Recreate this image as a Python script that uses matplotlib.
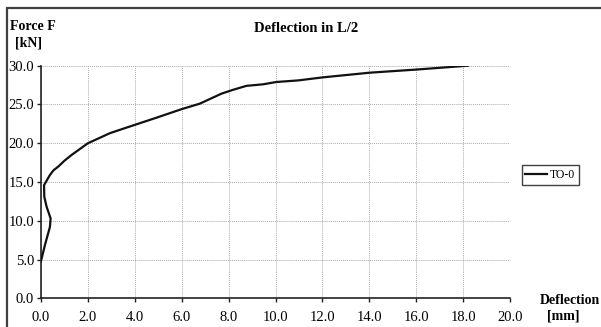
import matplotlib
matplotlib.use("Agg")
import matplotlib.pyplot as plt
from matplotlib.patches import Rectangle
import numpy as np

plt.rcParams['font.family'] = ['Liberation Serif', 'DejaVu Serif']

# deflection in L/2 [mm] vs force [kN]
deflection = [0.0, 0.17, 0.38, 0.41, 0.24, 0.14, 0.13, 0.38, 0.53, 0.74, 1.02, 1.31, 2.0,
              2.94, 3.93, 4.93, 6.0, 6.77, 7.27, 7.7, 8.2, 8.76, 9.47, 10.04, 10.96,
              12.03, 14.02, 16.0, 18.2]
force = [4.8, 6.9, 9.2, 10.3, 11.8, 13.1, 14.6, 15.9, 16.5, 17.0, 17.8, 18.5, 20.0,
         21.3, 22.3, 23.3, 24.4, 25.1, 25.8, 26.4, 26.9, 27.4, 27.6, 27.9, 28.1,
         28.5, 29.1, 29.5, 30.0]
series_name = "TO-0"
xticks = np.arange(0, 20.1, 2.0)
yticks = np.arange(0, 30.1, 5.0)

W, H = 601, 327
fig = plt.figure(figsize=(W / 100, H / 100), dpi=100)
fig.patch.set_facecolor("white")

# outer frame of the chart (only top/left visible)
fig.patches.append(Rectangle((7 / W, -0.1), 1.2, 1 - 8 / H + 0.1, transform=fig.transFigure,
                             fill=False, edgecolor="#404040", linewidth=1.6, zorder=0))

ax = fig.add_axes([41 / W, 1 - 298.3 / H, (510 - 41) / W, (298.3 - 65.7) / H])
ax.plot(deflection, force, color="#111111", linewidth=1.6, label=series_name, zorder=3)

ax.set_xlim(0, 20)
ax.set_ylim(0, 30)
ax.set_xticks(xticks)
ax.set_yticks(yticks)
ax.set_xticklabels([f"{v:.1f}" for v in xticks])
ax.set_yticklabels([f"{v:.1f}" for v in yticks])
ax.tick_params(labelsize=10.5, length=3, width=1, color="#222222", pad=6)
ax.tick_params(axis="y", pad=2)
ax.grid(True, linestyle=(0, (1, 1)), color="#aaaaaa", linewidth=0.7)
for s in ["top", "right"]:
    ax.spines[s].set_visible(False)
for s in ["left", "bottom"]:
    ax.spines[s].set_color("#222222")
    ax.spines[s].set_linewidth(1.2)

fig.text(306 / W, 1 - 29 / H, "Deflection in L/2", ha="center", va="center",
         fontsize=10.5, fontweight="bold")
fig.text(10 / W, 1 - 27 / H, "Force F", ha="left", va="center", fontsize=10, fontweight="bold")
fig.text(28 / W, 1 - 43 / H, "[kN]", ha="center", va="center", fontsize=10, fontweight="bold")
fig.text(600 / W, 1 - 300.5 / H, "Deflection", ha="right", va="center", fontsize=10, fontweight="bold")
fig.text(563 / W, 1 - 316 / H, "[mm]", ha="center", va="center", fontsize=10, fontweight="bold")

leg = ax.legend(loc="center left", bbox_to_anchor=(1.025, 0.53), frameon=True, fancybox=False,
                fontsize=8.5, handlelength=1.8, borderpad=0.3, handletextpad=0.3,
                borderaxespad=0)
leg.get_frame().set_edgecolor("#111111")
leg.get_frame().set_linewidth(1.0)

fig.savefig("out.png", dpi=100)
